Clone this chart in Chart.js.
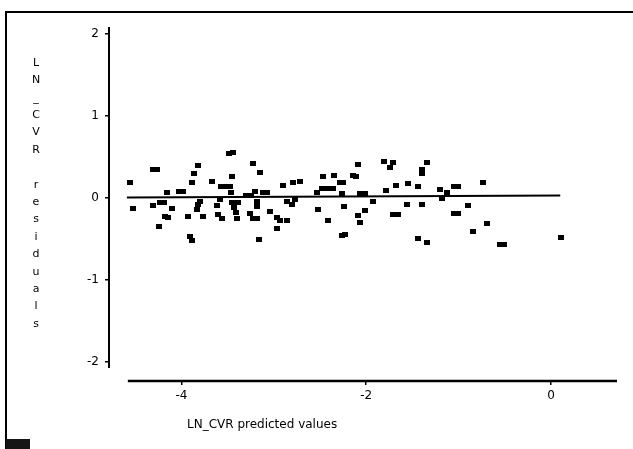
<!DOCTYPE html>
<html>
<head>
<meta charset="utf-8">
<script src="https://cdn.jsdelivr.net/npm/chart.js@4/dist/chart.umd.min.js"></script>
<style>
  html, body { margin: 0; padding: 0; background: #fff; }
  #wrap { position: relative; width: 633px; height: 449px; overflow: hidden; background: #fff; }
  #c { position: absolute; left: 0; top: 0; }
  .frame { position: absolute; background: #000; }
  #frameTop { left: 5px; top: 11px; width: 628px; height: 2px; }
  #frameLeft { left: 5px; top: 11px; width: 2px; height: 438px; }
  #corner { left: 6px; top: 439px; width: 24px; height: 10px; background: #151515; }
</style>
</head>
<body>
<div id="wrap">
  <canvas id="c" width="633" height="449"></canvas>
  <div class="frame" id="frameTop"></div>
  <div class="frame" id="frameLeft"></div>
  <div class="frame" id="corner"></div>
</div>
<script>
// Predicted values (x) and residuals (y) for each case
const predicted = [
  -4.556, -4.307, -4.264, -4.521, -4.304, -4.232, -4.188, -4.159, -4.105, -4.177,
  -4.142, -4.242, -4.026, -3.983, -3.925, -3.907, -3.889, -3.817, -3.864, -3.882,
  -3.666, -3.799, -3.817, -3.834, -3.763, -3.618, -3.601, -3.564, -3.571, -3.523,
  -3.582, -3.485, -3.442, -3.456, -3.474, -3.463, -3.452, -3.431, -3.409, -3.387,
  -3.402, -3.301, -3.252, -3.222, -3.203, -3.185, -3.185, -3.258, -3.225, -3.182,
  -3.149, -3.160, -3.117, -3.074, -3.041, -2.969, -2.933, -2.860, -2.969, -2.897,
  -2.789, -2.716, -2.860, -2.806, -2.771, -2.464, -2.348, -2.536, -2.482, -2.424,
  -2.363, -2.518, -2.410, -2.284, -2.248, -2.265, -2.240, -2.229, -2.260, -2.140,
  -2.110, -2.092, -2.067, -2.018, -2.013, -2.085, -2.067, -1.923, -1.807, -1.707,
  -1.742, -1.789, -1.681, -1.544, -1.705, -1.661, -1.562, -1.339, -1.399, -1.399,
  -1.436, -1.399, -1.436, -1.345, -1.201, -1.129, -1.183, -1.055, -1.012, -0.733,
  -0.895, -1.055, -1.012, -0.696, -0.841, -0.557, -0.514, 0.108
];
const residuals = [
   0.185,  0.344,  0.344, -0.132, -0.100, -0.059, -0.059,  0.059, -0.140, -0.226,
  -0.246, -0.356,  0.079,  0.079, -0.234, -0.478, -0.530,  0.396,  0.287,  0.185,
   0.189, -0.043, -0.091, -0.152, -0.234, -0.100, -0.213, -0.254,  0.132,  0.132,
  -0.022,  0.539,  0.543,  0.262,  0.132,  0.059, -0.067, -0.128, -0.189, -0.067,
  -0.254,  0.030,  0.030,  0.417,  0.071, -0.051, -0.112, -0.201, -0.262, -0.262,
   0.307, -0.510,  0.059,  0.059, -0.173, -0.241, -0.283, -0.283, -0.384,  0.146,
   0.183,  0.201, -0.051, -0.091, -0.030,  0.262,  0.266,  0.059,  0.112,  0.112,
   0.112, -0.144, -0.283,  0.185,  0.180,  0.043, -0.112, -0.457, -0.465,  0.268,
   0.262,  0.405,  0.043,  0.043, -0.161, -0.222, -0.302, -0.043,  0.437,  0.424,
   0.368,  0.091,  0.152,  0.173, -0.213, -0.213, -0.083,  0.424,  0.344,  0.287,
   0.132, -0.083, -0.498, -0.551,  0.100,  0.059, -0.010,  0.132,  0.132,  0.185,
  -0.100, -0.201, -0.201, -0.315, -0.409, -0.571, -0.571, -0.485
];

// Reference line through the residuals
const fitX = [-4.59, 0.10];
const fitY = [0.0, 0.025];

// Axis ticks
const xTicks = [-4, -2, 0];
const yTicks = [-2, -1, 0, 1, 2];

const xTitle = 'LN_CVR predicted values';
const yTitle = 'LN_CVR residuals';

// Axis extents: the x axis rule spans xRule, the y axis rule spans yRule
const xRule = [-4.58, 0.714];
const yRule = [-2.08, 2.08];

const FONT = '"DejaVu Sans", "Liberation Sans", sans-serif';

// small filled rectangle used as the point marker
const marker = document.createElement('canvas');
marker.width = 6; marker.height = 5;
(function () {
  const m = marker.getContext('2d');
  m.fillStyle = '#000';
  m.fillRect(0, 0, 6, 5);
})();

const axesAndTitles = {
  id: 'axesAndTitles',
  afterDraw(chart) {
    const { ctx, chartArea, scales } = chart;
    const xs = scales.x, ys = scales.y;
    ctx.save();
    ctx.strokeStyle = '#000';
    // y axis rule
    ctx.lineWidth = 2;
    ctx.beginPath();
    ctx.moveTo(chartArea.left, ys.getPixelForValue(yRule[1]));
    ctx.lineTo(chartArea.left, ys.getPixelForValue(yRule[0]));
    ctx.stroke();
    // x axis rule
    ctx.lineWidth = 2.5;
    ctx.beginPath();
    ctx.moveTo(xs.getPixelForValue(xRule[0]), chartArea.bottom);
    ctx.lineTo(xs.getPixelForValue(xRule[1]), chartArea.bottom);
    ctx.stroke();

    ctx.fillStyle = '#000';
    // x title
    ctx.font = '12px ' + FONT;
    ctx.textAlign = 'left';
    ctx.textBaseline = 'middle';
    ctx.fillText(xTitle, 187, 425);

    // y title, one character per row
    ctx.font = '11px ' + FONT;
    ctx.textAlign = 'center';
    const chars = Array.from(yTitle);
    chars.forEach((ch, i) => {
      if (ch !== ' ') ctx.fillText(ch, 36, 63 + i * 17.4);
    });
    ctx.restore();
  }
};

new Chart(document.getElementById('c'), {
  type: 'scatter',
  data: {
    datasets: [
      {
        type: 'line',
        data: fitX.map((x, i) => ({ x, y: fitY[i] })),
        borderColor: '#000',
        borderWidth: 2,
        pointRadius: 0,
        fill: false,
        order: 2
      },
      {
        data: predicted.map((x, i) => ({ x, y: residuals[i] })),
        pointStyle: marker,
        backgroundColor: '#000',
        borderColor: '#000',
        order: 1
      }
    ]
  },
  plugins: [axesAndTitles],
  options: {
    responsive: false,
    devicePixelRatio: 1,
    animation: false,
    layout: { padding: { left: 0, top: 26, right: 16, bottom: 0 } },
    plugins: { legend: { display: false }, tooltip: { enabled: false } },
    scales: {
      x: {
        type: 'linear',
        min: -4.784,
        max: 0.714,
        afterBuildTicks: s => { s.ticks = xTicks.map(v => ({ value: v })); },
        afterFit: s => { s.height = 68; },
        border: { display: false },
        grid: { display: true, drawOnChartArea: false, drawTicks: true, tickLength: 4, color: '#000', lineWidth: 1.5 },
        ticks: { color: '#000', padding: 4, font: { family: FONT, size: 12 }, maxRotation: 0, callback: v => String(v) }
      },
      y: {
        type: 'linear',
        min: -2.238,
        max: 2.0915,
        afterBuildTicks: s => { s.ticks = yTicks.map(v => ({ value: v })); },
        afterFit: s => { s.width = 109; },
        border: { display: false },
        grid: { display: true, drawOnChartArea: false, drawTicks: true, tickLength: 4, color: '#000', lineWidth: 1.5 },
        ticks: { color: '#000', padding: 6, font: { family: FONT, size: 12 }, callback: v => String(v) }
      }
    }
  }
});
</script>
</body>
</html>
